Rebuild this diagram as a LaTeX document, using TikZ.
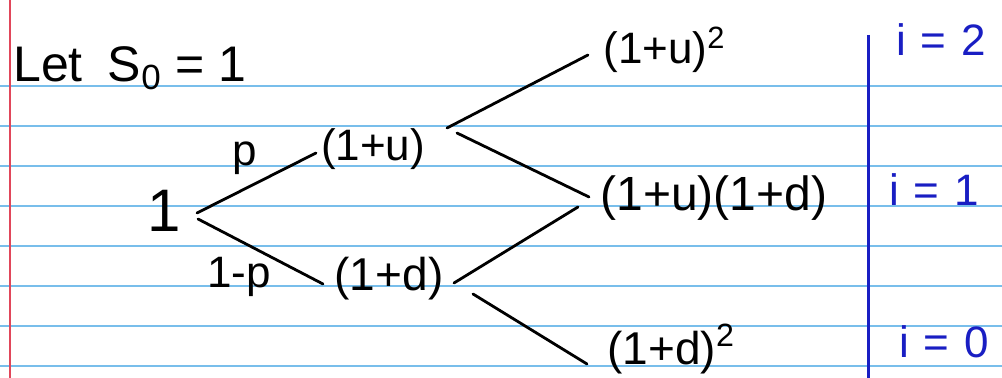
\documentclass[tikz,border=0pt]{standalone}
\usepackage{fontspec}
\setmainfont{Liberation Sans}
\usetikzlibrary{calc}

\definecolor{ruleblue}{RGB}{120,190,235}
\definecolor{marginred}{RGB}{225,70,90}
\definecolor{inkblue}{RGB}{25,30,195}

\tikzset{
  ink/.style={inner sep=0pt, font=\fontsize{22}{24}\selectfont},
  bigink/.style={inner sep=0pt, font=\fontsize{24}{26}\selectfont},
  bluelabel/.style={ink, text=inkblue},
  branch/.style={line width=1.4pt, line cap=round},
  paperline/.style={ruleblue, line width=1pt},
}

\begin{document}
\begin{tikzpicture}[x=0.5pt,y=-0.5pt]
  \useasboundingbox[fill=white] (0,0) rectangle (1002,378);

  % ruled paper
  \foreach \y in {86,126,...,366}
    \draw[paperline] (0,\y) -- (1002,\y);
  \draw[marginred, line width=1pt] (10,0) -- (10,378);

  % heading
  \node[ink, font=\fontsize{25}{28}\selectfont, anchor=base west] (title) at (13,82)
    {Let\enspace S\textsubscript{0} = 1};

  % tree nodes
  \node[ink, font=\fontsize{30}{32}\selectfont] (root) at (164,211) {1};
  \node[ink] (u1) at (373,149) {(1+u)};
  \node[ink, font=\fontsize{23}{25}\selectfont] (d1) at (389,279) {(1+d)};
  \node[ink, anchor=west] (uu) at (603,50) {(1+u)\textsuperscript{2}};
  \node[bigink, anchor=west] (ud) at (600,198) {(1+u)(1+d)};
  \node[ink, font=\fontsize{23}{25}\selectfont, anchor=west] (dd) at (607,349)
    {(1+d)\textsuperscript{2}};

  % branch probabilities
  \node[ink] (pu) at (245,158) {p};
  \node[ink] (pd) at (239,277) {1-p};

  % branches
  \draw[branch] ($(root)+(33,2)$) -- ($(u1)+(-57,4)$);
  \draw[branch] ($(root)+(34,8)$) -- ($(d1)+(-66,5)$);
  \draw[branch] ($(u1)+(74,-21)$) -- ($(uu.west)+(-15,5)$);
  \draw[branch] ($(u1)+(84,-16)$) -- ($(ud.west)+(-11,-1)$);
  \draw[branch] ($(d1)+(65,4)$) -- ($(ud.west)+(-22,9)$);
  \draw[branch] ($(d1)+(84,15)$) -- ($(dd.west)+(-20,15)$);

  % level index column
  \coordinate (bartop) at (868,35);
  \coordinate (barbot) at (868,378);
  \draw[inkblue, line width=1.5pt] (bartop) -- (barbot);
  \node[bluelabel] (i2) at (941,40) {i\,\,=\,\,2};
  \node[bluelabel] (i1) at (934,190) {i\,\,=\,\,1};
  \node[bluelabel] (i0) at (944,342) {i\,\,=\,\,0};
\end{tikzpicture}
\end{document}
